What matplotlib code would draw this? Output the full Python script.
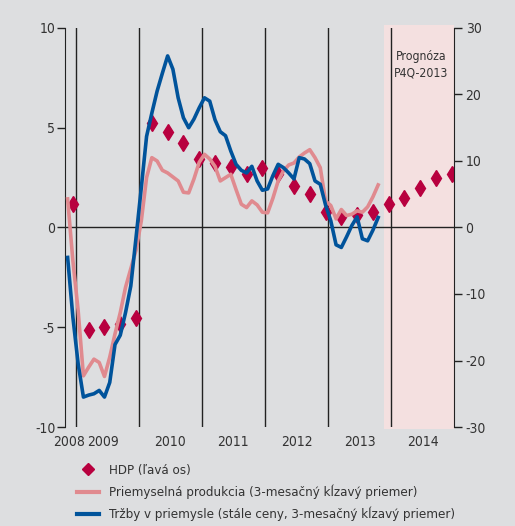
import numpy as np
import matplotlib
matplotlib.use("Agg")
import matplotlib.pyplot as plt
from matplotlib.lines import Line2D
from matplotlib.patches import Rectangle

plt.rcParams['font.family'] = ['DejaVu Sans Condensed', 'Liberation Sans Narrow', 'DejaVu Sans']
plt.rcParams['font.stretch'] = 'condensed'
plt.rcParams['axes.unicode_minus'] = False

# mesacne hodnoty, nov 2008 - okt 2013 (prava os)
mesiac_start = 2008 + 10.5 / 12
priem_produkcia = [4.3, -5.0, -12.5, -22.3, -21.0, -19.8, -20.3, -22.4, -19.5, -16.0,
                   -12.8, -9.0, -6.2, -3.4, 1.0, 7.5, 10.5, 10.0, 8.6, 8.2,
                   7.6, 7.0, 5.3, 5.2, 7.3, 9.8, 11.0, 10.3, 9.2, 7.0,
                   7.5, 8.0, 5.7, 3.5, 3.0, 4.0, 3.4, 2.3, 2.2, 4.4,
                   7.0, 8.5, 9.4, 9.7, 10.6, 11.2, 11.7, 10.5, 9.0, 4.0,
                   3.3, 1.3, 2.7, 1.8, 2.0, 2.5, 2.3, 3.1, 4.6, 6.4]
trzby = [-4.5, -13.5, -20.5, -25.5, -25.2, -25.0, -24.5, -25.5, -23.3, -17.6,
         -16.2, -12.8, -8.8, -1.5, 6.0, 13.7, 17.2, 20.5, 23.2, 25.8,
         23.8, 19.5, 16.5, 15.0, 16.3, 18.0, 19.5, 19.0, 16.2, 14.4,
         13.8, 11.5, 9.5, 8.6, 8.2, 9.2, 7.0, 5.6, 5.8, 7.8,
         9.5, 9.0, 8.2, 7.3, 10.5, 10.3, 9.6, 7.0, 6.5, 3.4,
         1.0, -2.6, -3.0, -1.4, 0.3, 1.6, -1.7, -2.0, -0.4, 1.5]

# stvrtrocne HDP, Q4 2008 - Q4 2014 (lava os)
hdp_start = 2008 + 11.5 / 12
hdp = [1.2, -5.15, -5.0, -4.85, -4.55, 5.25, 4.8, 4.25, 3.45, 3.25,
       3.05, 2.7, 3.0, 2.7, 2.1, 1.7, 0.8, 0.55, 0.65, 0.8,
       1.2, 1.5, 2.0, 2.5, 2.7]

roky = [2008, 2009, 2010, 2011, 2012, 2013, 2014]
roky_pozicie = [2008.9, 2009.43, 2010.5, 2011.5, 2012.5, 2013.5, 2014.5]
prognoza_od = 2013.885

bg = '#dddee0'
modra = '#00539b'
ruzova = '#e08a8f'
bordova = '#b8003f'
text_c = '#333333'

t_mes = mesiac_start + np.arange(len(trzby)) / 12
t_hdp = hdp_start + 0.25 * np.arange(len(hdp))

fig = plt.figure(figsize=(5.15, 5.26), dpi=100, facecolor=bg)
ax = fig.add_axes([0.1262, 0.1882, 0.7563, 0.7586])
ax.set_facecolor(bg)
ax.set_xlim(2008 + 10 / 12, 2015)
ax.set_ylim(-10, 10)

ax.add_patch(Rectangle((prognoza_od, -10.1), 2015 - prognoza_od, 20.25,
                       facecolor='#f4e0e0', edgecolor='none', clip_on=False, zorder=0))
for r in range(2009, 2015):
    ax.axvline(r, color='#222222', lw=1, zorder=1)
ax.axhline(0, color='#222222', lw=1, zorder=1)

ax.plot(t_hdp, hdp, linestyle='none', marker='d', ms=8.5, color=bordova, zorder=2)

ax.text(2014.47, 8.15, 'Prognóza\nP4Q-2013', ha='center', va='center', fontsize=8.8,
        color=text_c, linespacing=1.3)

ax.set_yticks([-10, -5, 0, 5, 10])
ax.set_xticks(roky_pozicie)
ax.set_xticklabels([str(r) for r in roky])
ax.tick_params(axis='x', length=0, pad=6, labelsize=10, colors=text_c)
ax.tick_params(axis='y', direction='out', length=6, width=1, pad=1, labelsize=10,
               labelcolor=text_c, color='#222222')
for s in ['top', 'bottom', 'right']:
    ax.spines[s].set_visible(False)
ax.spines['left'].set_color('#222222')

ax2 = ax.twinx()
ax2.set_ylim(-30, 30)
ax2.plot(t_mes, priem_produkcia, color=ruzova, lw=2.6, zorder=3)
ax2.plot(t_mes, trzby, color=modra, lw=2.6, zorder=4)
ax2.set_yticks([-30, -20, -10, 0, 10, 20, 30])
ax2.tick_params(axis='y', direction='out', length=6, width=1, pad=2, labelsize=10,
                labelcolor=text_c, color='#222222')
for s in ['top', 'bottom', 'left']:
    ax2.spines[s].set_visible(False)
ax2.spines['right'].set_color('#222222')

handles = [
    Line2D([], [], linestyle='none', marker='D', ms=6.5, color=bordova),
    Line2D([], [], color=ruzova, lw=3),
    Line2D([], [], color=modra, lw=3),
]
labels = ['HDP (ľavá os)',
          'Priemyselná produkcia (3-mesačný kĺzavý priemer)',
          'Tržby v priemysle (stále ceny, 3-mesačný kĺzavý priemer)']
fig.legend(handles, labels, loc='upper left', bbox_to_anchor=(77 / 515, 1 - 464 / 526),
           frameon=False, borderpad=0, borderaxespad=0, handlelength=1.7,
           handletextpad=0.7, labelspacing=0.58, fontsize=9.5, labelcolor=text_c)

fig.savefig('out.png', dpi=100, facecolor=bg)
